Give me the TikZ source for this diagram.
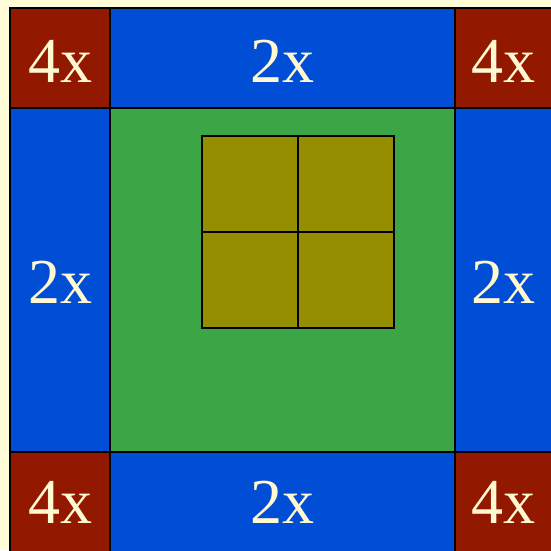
\documentclass[tikz,border=0pt]{standalone}
\usepackage{fontspec}
\setmainfont{Liberation Serif}
\definecolor{bgcream}{HTML}{FFFDD8}
\definecolor{cellred}{HTML}{921800}
\definecolor{cellblue}{HTML}{004DD6}
\definecolor{cellgreen}{HTML}{3CA646}
\definecolor{cellolive}{HTML}{948E00}
\definecolor{txtcream}{HTML}{FFF8D0}
\begin{document}
\begin{tikzpicture}[x=1pt,y=-1pt,
  cell/.style={draw=black,line width=1.6pt},
  lbl/.style={text=txtcream,font=\fontsize{64}{64}\selectfont,anchor=base,inner sep=0pt}]
\useasboundingbox (0,0) rectangle (551,550);
\fill[bgcream] (0,0) rectangle (551,550);
\clip (0,0) rectangle (551,550);
% corners
\draw[cell,fill=cellred] (10,8) rectangle (110,108);
\draw[cell,fill=cellred] (455,8) rectangle (556,108);
\draw[cell,fill=cellred] (10,452) rectangle (110,556);
\draw[cell,fill=cellred] (455,452) rectangle (556,556);
% edges
\draw[cell,fill=cellblue] (110,8) rectangle (455,108);
\draw[cell,fill=cellblue] (110,452) rectangle (455,556);
\draw[cell,fill=cellblue] (10,108) rectangle (110,452);
\draw[cell,fill=cellblue] (455,108) rectangle (556,452);
% centre
\draw[cell,fill=cellgreen] (110,108) rectangle (455,452);
% inner squares
\draw[cell,fill=cellolive] (202,136) rectangle (298,232);
\draw[cell,fill=cellolive] (298,136) rectangle (394,232);
\draw[cell,fill=cellolive] (202,232) rectangle (298,328);
\draw[cell,fill=cellolive] (298,232) rectangle (394,328);
% labels
\node[lbl] (tl) at (60,82) {4x};
\node[lbl] (tm) at (282,82) {2x};
\node[lbl] (tr) at (503,82) {4x};
\node[lbl] (ml) at (60,303) {2x};
\node[lbl] (mr) at (503,303) {2x};
\node[lbl] (bl) at (60,523) {4x};
\node[lbl] (bm) at (282,523) {2x};
\node[lbl] (br) at (503,523) {4x};
\end{tikzpicture}
\end{document}
